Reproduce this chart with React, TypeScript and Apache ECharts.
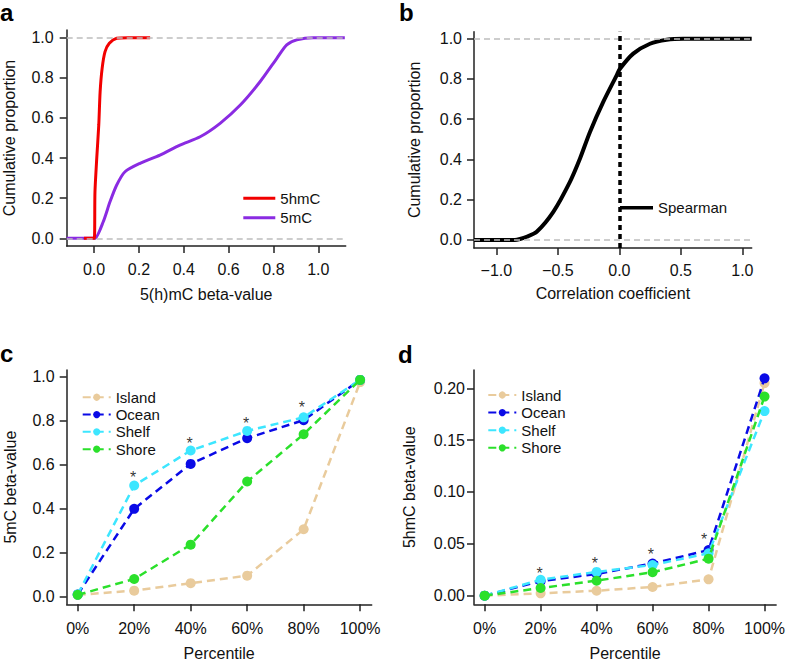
import React, { useEffect, useRef } from 'react';
import * as echarts from 'echarts';

const FONT = 'Liberation Sans, Arial, Helvetica, sans-serif';

// ---- Panel a: cumulative distributions of beta-values ----
const hmcX = [-0.045, 0.001, 0.004, 0.012, 0.021, 0.027, 0.036, 0.049, 0.068, 0.101, 0.15, 0.25];
const hmcY = [0, 0, 0.23, 0.4, 0.565, 0.73, 0.847, 0.93, 0.972, 0.997, 1, 1];
const mcX = [-0.122, 0.0, 0.004, 0.041, 0.071, 0.101, 0.138, 0.205, 0.294, 0.383, 0.473, 0.562, 0.652, 0.74, 0.815, 0.859, 0.904, 0.978, 1.118];
const mcY = [0, 0, 0, 0.083, 0.182, 0.266, 0.332, 0.374, 0.415, 0.465, 0.506, 0.573, 0.664, 0.78, 0.897, 0.964, 0.989, 1, 1];

// ---- Panel b: correlation coefficient CDF ----
const corrX = [-1.182, -0.85, -0.808, -0.754, -0.672, -0.537, -0.402, -0.32, -0.239, -0.131, -0.022, 0.005, 0.113, 0.249, 0.385, 0.52, 1.076];
const corrY = [0, 0, 0.005, 0.016, 0.041, 0.14, 0.289, 0.405, 0.537, 0.686, 0.818, 0.851, 0.926, 0.975, 0.995, 1, 1];

// ---- Panels c & d: percentiles by CpG region ----
const percentiles = [0, 1, 2, 3, 4, 5];
const percentileLabels = ['0%', '20%', '40%', '60%', '80%', '100%'];
const regions = ['Island', 'Ocean', 'Shelf', 'Shore'];
const regionColors = ['#E9CB9C', '#0A0AE6', '#3DE6FF', '#2BE02B'];

const mcIsland = [0.008, 0.027, 0.061, 0.095, 0.306, 0.975];
const mcOcean = [0.01, 0.399, 0.603, 0.72, 0.802, 0.985];
const mcShelf = [0.01, 0.505, 0.664, 0.753, 0.815, 0.985];
const mcShore = [0.008, 0.08, 0.236, 0.523, 0.738, 0.985];

const hmcIsland = [0.0, 0.0023, 0.0048, 0.0084, 0.0158, 0.205];
const hmcOcean = [0.0, 0.014, 0.021, 0.031, 0.044, 0.2096];
const hmcShelf = [0.0, 0.0154, 0.0229, 0.0296, 0.0409, 0.178];
const hmcShore = [0.0, 0.0074, 0.0145, 0.0226, 0.0357, 0.192];

const cStarX = [0.98, 1.98, 2.98, 3.97];
const cStarY = [0.558, 0.712, 0.806, 0.876];
const dStarX = [0.98, 1.97, 2.97, 3.92];
const dStarY = [0.0257, 0.035, 0.0434, 0.0579];

// ---- tick values ----
const betaTicks = [0, 0.2, 0.4, 0.6, 0.8, 1.0];
const corrTicks = [-1, -0.5, 0, 0.5, 1];
const hmcTicks = [0, 0.05, 0.1, 0.15, 0.2];

const AX = '#222';
const TXT = '#111';

function fmt1(v: number) {
  const s = Math.abs(v).toFixed(1);
  return v < -1e-9 ? '\u2212' + s : s;
}
function fmt2(v: number) {
  return v.toFixed(2);
}
function fmtPct(v: number) {
  return percentileLabels[Math.round(v)] ?? '';
}

function axis(
  gridIndex: number,
  min: number,
  max: number,
  ticks: number[],
  formatter: (v: number) => string,
  name: string,
  margin: number,
  nameGap: number
) {
  return {
    type: 'value',
    gridIndex,
    min,
    max,
    axisLine: { show: true, onZero: false, lineStyle: { color: AX, width: 1.5 } },
    axisTick: { show: true, inside: false, length: 7, customValues: ticks, lineStyle: { color: AX, width: 1.5 } },
    axisLabel: {
      show: true,
      customValues: ticks,
      formatter,
      margin,
      fontSize: 16,
      color: TXT,
      fontFamily: FONT,
      hideOverlap: false,
    },
    splitLine: { show: false },
    name,
    nameLocation: 'middle',
    nameGap,
    nameTextStyle: { fontSize: 16, color: TXT, fontFamily: FONT },
  };
}

const zip = (xs: number[], ys: number[]) => xs.map((x, i) => [x, ys[i]]);

const refLine = (v: number) => ({
  yAxis: v,
  lineStyle: { color: '#BDBDBD', type: [6, 4], width: 1.5 },
});

function regionSeries(gridIdx: number, values: number[][]) {
  return regions.map((name, i) => ({
    name,
    type: 'line',
    xAxisIndex: gridIdx,
    yAxisIndex: gridIdx,
    data: zip(percentiles, values[i]),
    symbol: 'circle',
    symbolSize: 10,
    showSymbol: true,
    itemStyle: { color: regionColors[i] },
    lineStyle: { color: regionColors[i], width: 2.5, type: [8, 5] },
    z: 2 + i,
  }));
}

function starSeries(gridIdx: number, xs: number[], ys: number[]) {
  return {
    type: 'scatter',
    xAxisIndex: gridIdx,
    yAxisIndex: gridIdx,
    data: zip(xs, ys),
    symbolSize: 1,
    itemStyle: { color: 'rgba(0,0,0,0)' },
    label: {
      show: true,
      position: 'inside',
      formatter: '*',
      fontSize: 16,
      color: '#000',
      fontFamily: FONT,
      offset: [0, 4],
    },
    z: 10,
  };
}

const legendBase = {
  orient: 'vertical',
  padding: 0,
  selectedMode: false,
  textStyle: { fontSize: 15, color: TXT, fontFamily: FONT },
};

const curveBase = {
  type: 'line',
  symbol: 'none',
  smooth: 0.25,
};

export default function App() {
  const ref = useRef<HTMLDivElement>(null);

  useEffect(() => {
    if (!ref.current) return;
    const chart = echarts.init(ref.current, undefined, { renderer: 'svg' });

    const option: any = {
      animation: false,
      backgroundColor: '#ffffff',
      textStyle: { fontFamily: FONT },
      grid: [
        { left: 66.7, top: 30, width: 279, height: 216 },
        { left: 474, top: 31.7, width: 277.7, height: 216.3 },
        { left: 66.7, top: 370, width: 305, height: 234.3 },
        { left: 474, top: 370, width: 305, height: 234.3 },
      ],
      xAxis: [
        axis(0, -0.122, 1.122, betaTicks, fmt1, '5(h)mC beta-value', 15, 40),
        axis(1, -1.182, 1.076, corrTicks, fmt1, 'Correlation coefficient', 14, 37),
        axis(2, -0.195, 5.205, percentiles, fmtPct, 'Percentile', 16, 41),
        axis(3, -0.19, 5.207, percentiles, fmtPct, 'Percentile', 16, 41),
      ],
      yAxis: [
        axis(0, -0.038, 1.038, betaTicks, fmt1, 'Cumulative proportion', 13, 49),
        axis(1, -0.04, 1.035, betaTicks, fmt1, 'Cumulative proportion', 12, 52),
        axis(2, -0.035, 1.03, betaTicks, fmt1, '5mC beta-value', 12, 48),
        axis(3, -0.0083, 0.2176, hmcTicks, fmt2, '5hmC beta-value', 9, 57),
      ],
      legend: [
        {
          ...legendBase,
          data: ['5hmC', '5mC'],
          left: 243.3,
          top: 188.6,
          icon: 'rect',
          itemWidth: 32,
          itemHeight: 3,
          itemGap: 0,
          textStyle: { ...legendBase.textStyle, lineHeight: 19.4 },
        },
        {
          ...legendBase,
          data: ['Spearman'],
          left: 620,
          top: 198,
          icon: 'rect',
          itemWidth: 33,
          itemHeight: 3.5,
          itemGap: 0,
          textStyle: { ...legendBase.textStyle, lineHeight: 19.4 },
        },
        {
          ...legendBase,
          data: regions,
          left: 81.7,
          top: 388.6,
          itemWidth: 28,
          itemHeight: 9,
          itemGap: 0,
          textStyle: { ...legendBase.textStyle, lineHeight: 17.3 },
        },
        {
          ...legendBase,
          data: regions,
          left: 487.3,
          top: 386.2,
          itemWidth: 28,
          itemHeight: 9,
          itemGap: 0,
          textStyle: { ...legendBase.textStyle, lineHeight: 17.6 },
        },
      ],
      graphic: [
        { type: 'text', x: 0, y: 12.4, style: { text: 'a', fontSize: 24, fontWeight: 'bold', fontFamily: FONT, fill: '#000', verticalAlign: 'middle' } },
        { type: 'text', x: 399, y: 12.4, style: { text: 'b', fontSize: 24, fontWeight: 'bold', fontFamily: FONT, fill: '#000', verticalAlign: 'middle' } },
        { type: 'text', x: 0, y: 353.4, style: { text: 'c', fontSize: 24, fontWeight: 'bold', fontFamily: FONT, fill: '#000', verticalAlign: 'middle' } },
        { type: 'text', x: 398, y: 354, style: { text: 'd', fontSize: 24, fontWeight: 'bold', fontFamily: FONT, fill: '#000', verticalAlign: 'middle' } },
      ],
      series: [
        {
          ...curveBase,
          name: '5mC',
          xAxisIndex: 0,
          yAxisIndex: 0,
          data: zip(mcX, mcY),
          itemStyle: { color: '#8A2BE2' },
          lineStyle: { color: '#8A2BE2', width: 3 },
          z: 2,
        },
        {
          ...curveBase,
          name: '5hmC',
          xAxisIndex: 0,
          yAxisIndex: 0,
          data: zip(hmcX, hmcY),
          itemStyle: { color: '#F20000' },
          lineStyle: { color: '#F20000', width: 3 },
          z: 3,
          markLine: {
            silent: true,
            symbol: 'none',
            label: { show: false },
            data: [refLine(0), refLine(1)],
          },
        },
        {
          ...curveBase,
          name: 'Spearman',
          xAxisIndex: 1,
          yAxisIndex: 1,
          data: zip(corrX, corrY),
          itemStyle: { color: '#000' },
          lineStyle: { color: '#000', width: 4 },
          z: 2,
          markLine: {
            silent: true,
            symbol: 'none',
            label: { show: false },
            data: [
              refLine(0),
              refLine(1),
              { xAxis: 0, lineStyle: { color: '#000', type: [5, 4], width: 3.5, cap: 'butt' } },
            ],
          },
        },
        ...regionSeries(2, [mcIsland, mcOcean, mcShelf, mcShore]),
        ...regionSeries(3, [hmcIsland, hmcOcean, hmcShelf, hmcShore]),
        starSeries(2, cStarX, cStarY),
        starSeries(3, dStarX, dStarY),
      ],
    };

    chart.setOption(option);
    return () => chart.dispose();
  }, []);

  return (
    <div
      ref={ref}
      style={{ position: 'fixed', left: 0, top: 0, width: 788, height: 664, background: '#fff' }}
    />
  );
}
